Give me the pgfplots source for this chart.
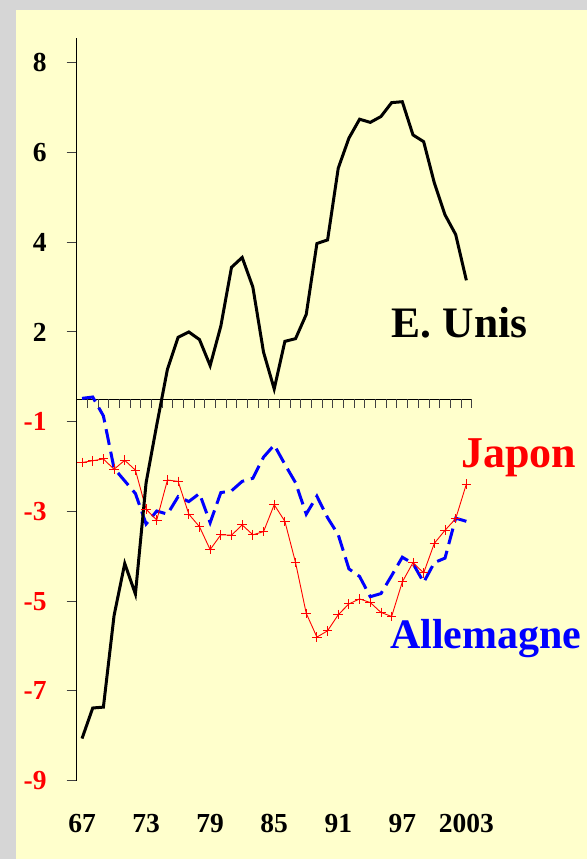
\documentclass[border=0pt]{standalone}
\usepackage{pgfplots}
\pgfplotsset{compat=1.18}
\usepackage{pgfplotstable}
\usepackage{fontspec}
\setmainfont{Liberation Serif}
\definecolor{slide}{RGB}{255,255,204}
\definecolor{frame}{RGB}{214,214,214}

% year, E. Unis, Japon, Allemagne (positions on the chart's own scale)
\pgfplotstableread{
year us jp de
1967 -7.06 -0.91 0.52
1968 -6.38 -0.87 0.55
1969 -6.36 -0.83 0.13
1970 -4.32 -1.06 -1.04
1971 -3.16 -0.86 -1.32
1972 -3.84 -1.08 -1.60
1973 -1.36 -1.95 -2.28
1974 -0.07 -2.19 -1.99
1975 1.17 -1.30 -2.06
1976 1.88 -1.33 -1.67
1977 2.00 -2.06 -1.78
1978 1.83 -2.34 -1.60
1979 1.25 -2.85 -2.25
1980 2.13 -2.52 -1.58
1981 3.44 -2.53 -1.54
1982 3.66 -2.30 -1.33
1983 3.00 -2.52 -1.26
1984 1.55 -2.45 -0.79
1985 0.73 -1.85 -0.52
1986 1.79 -2.22 -0.95
1987 1.85 -3.14 -1.36
1988 2.39 -4.27 -2.06
1989 3.97 -4.80 -1.66
1990 4.05 -4.66 -2.14
1991 5.65 -4.30 -2.52
1992 6.32 -4.06 -3.28
1993 6.74 -3.95 -3.45
1994 6.67 -4.03 -3.90
1995 6.80 -4.25 -3.83
1996 7.11 -4.34 -3.43
1997 7.13 -3.57 -3.02
1998 6.39 -3.14 -3.16
1999 6.24 -3.37 -3.58
2000 5.32 -2.71 -3.14
2001 4.61 -2.42 -3.04
2002 4.17 -2.16 -2.15
2003 3.15 -1.39 -2.22
}\data

\begin{document}
\begin{tikzpicture}
\fill[frame] (0,0) rectangle (587pt,-859pt);
\fill[slide] (16pt,-10pt) rectangle (587pt,-859pt);
\useasboundingbox (0,0) rectangle (587pt,-859pt);
\begin{axis}[
  at={(76.7pt,-780.7pt)}, anchor=south west,
  scale only axis, width=395pt, height=742.7pt,
  xmin=1966.5, xmax=2003.5, ymin=-8, ymax=8.55,
  axis y line*=left, axis x line*=bottom,
  x axis line style={draw=none},
  y axis line style={line width=1pt},
  xtick={1967,1973,1979,1985,1991,1997,2003},
  xticklabels={67,73,79,85,91,97,2003},
  xtick style={draw=none},
  ytick={-8,-6,-4,-2,0,2,4,6,8},
  yticklabels={\textcolor{red}{-9},\textcolor{red}{-7},\textcolor{red}{-5},\textcolor{red}{-3},\textcolor{red}{-1},2,4,6,8},
  ytick style={line width=1pt, black!75},
  tick align=outside, major tick length=10pt,
  ticklabel style={font=\fontsize{27.5}{27.5}\selectfont\bfseries},
  yticklabel style={inner sep=0pt, xshift=-20pt},
  xticklabel style={anchor=base, inner sep=0pt, yshift=-42pt},
  clip=false,
]
\draw[line width=1pt] (axis cs:1966.5,0.505) -- (axis cs:2003.5,0.505);
\pgfplotsinvokeforeach{1967.5,1968.5,...,2003.5}{
  \draw[line width=1pt, black!75] (axis cs:#1,0.505) -- ++(0pt,-9pt);
}
\addplot[blue, line width=3pt, dash pattern=on 16pt off 7pt] table[x=year, y=de] {\data};
\addplot[red, line width=0.9pt, mark=+, mark size=4.8pt, mark options={solid, line width=0.9pt}] table[x=year, y=jp] {\data};
\addplot[black, line width=3pt] table[x=year, y=us] {\data};
\end{axis}
\node[anchor=base west, inner sep=0pt, font=\fontsize{43.5}{43.5}\selectfont\bfseries] at (391.7pt,-337pt) {E. Unis};
\node[anchor=base west, inner sep=0pt, text=red, font=\fontsize{44}{44}\selectfont\bfseries] at (461pt,-467pt) {Japon};
\node[anchor=base west, inner sep=0pt, text=blue, font=\fontsize{42}{42}\selectfont\bfseries] at (390pt,-648pt) {Allemagne};
\end{tikzpicture}
\end{document}
